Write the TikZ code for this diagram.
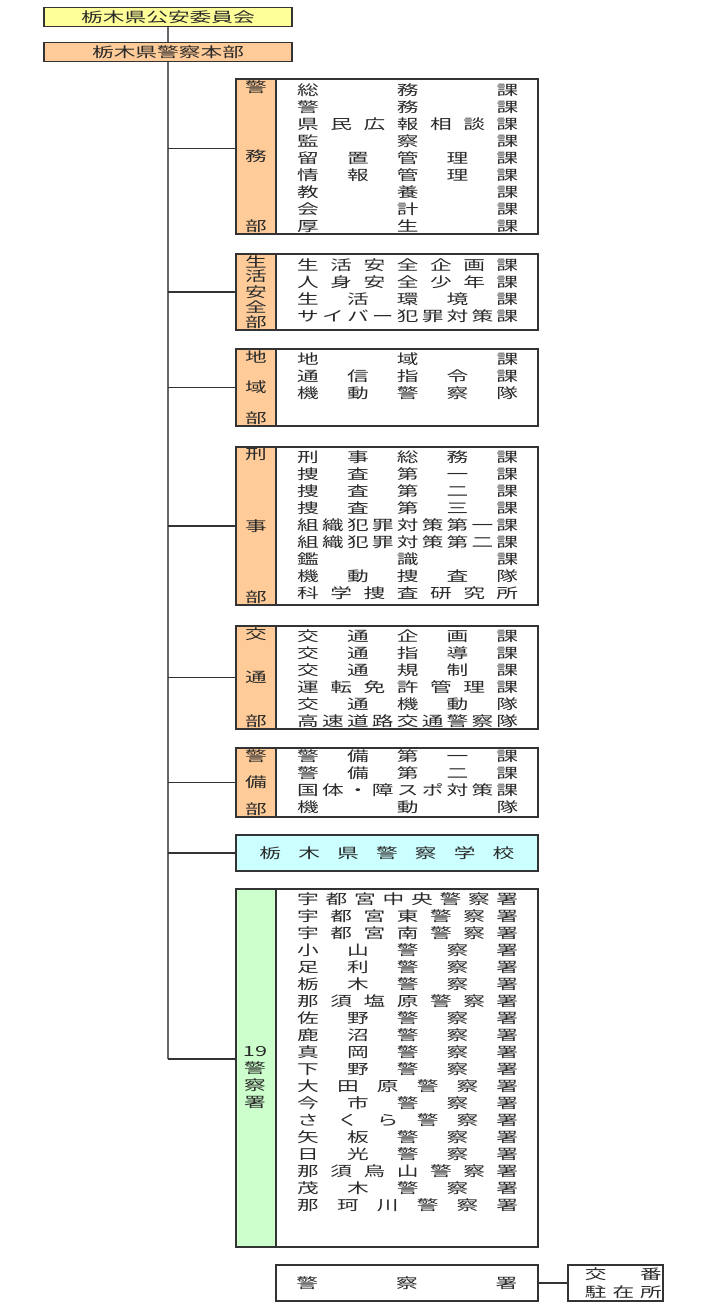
\documentclass[tikz,border=0pt]{standalone}
\usepackage{fontspec}
\setmainfont{Noto Sans CJK JP}[FakeStretch=1.55]
\usepackage{tikz}
\usetikzlibrary{positioning}
\definecolor{frame}{HTML}{333333}
\definecolor{trunk}{HTML}{666666}
\definecolor{ink}{HTML}{2A2A2A}
\definecolor{yellowpale}{HTML}{FFFF99}
\definecolor{orangepale}{HTML}{FFCC99}
\definecolor{cyanpale}{HTML}{CCFFFF}
\definecolor{greenpale}{HTML}{CCFFCC}
\makeatletter
\newcommand\jrow[2]{\hbox to #1{\@tfor\j@c:=#2\do{\j@c\hfil}\unskip}}
\newcommand\jcol[2]{\vbox to #1{\offinterlineskip\@tfor\j@c:=#2\do{\hbox{\j@c}\vfil}\unskip}}
\makeatother

\begin{document}
\begin{tikzpicture}[x=1pt,y=-1pt,font=\fontsize{14}{17}\selectfont,text=ink,
  box/.style={draw=frame,line width=1.8pt,fill=white,inner sep=0pt,anchor=north west},
  head/.style={box,anchor=center,minimum width=248pt,minimum height=19pt},
  strip/.style={box,fill=orangepale,minimum width=40pt},
  rows/.style={inner sep=0pt,anchor=north west,align=left},
  link/.style={draw=frame,line width=1.3pt},
  trunkline/.style={draw=trunk,line width=2.4pt}]
  \useasboundingbox (0,0) rectangle (702,1310);

  \node[head,fill=yellowpale] (iinkai) at (168,17) {栃木県公安委員会};
  \node[head,fill=orangepale] (honbu) at (168,52) {栃木県警察本部};

  \node[box,minimum width=302pt,minimum height=155pt] (keimu) at (235,78) {};
  \node[strip,minimum height=155pt] (keimuname) at (keimu.north west) {\jcol{151pt}{警務部}};
  \node[rows] (keimulist) at ([xshift=62pt,yshift=-6pt]keimu.north west) {\jrow{221pt}{総務課}\\ \jrow{221pt}{警務課}\\ \jrow{221pt}{県民広報相談課}\\ \jrow{221pt}{監察課}\\ \jrow{221pt}{留置管理課}\\ \jrow{221pt}{情報管理課}\\ \jrow{221pt}{教養課}\\ \jrow{221pt}{会計課}\\ \jrow{221pt}{厚生課}};

  \node[box,minimum width=302pt,minimum height=76pt] (seian) at (235,253) {};
  \node[strip,minimum height=76pt] (seianname) at (seian.north west) {\jcol{72pt}{生活安全部}};
  \node[rows] (seianlist) at ([xshift=62pt,yshift=-5pt]seian.north west) {\jrow{221pt}{生活安全企画課}\\ \jrow{221pt}{人身安全少年課}\\ \jrow{221pt}{生活環境課}\\ \jrow{221pt}{サイバー犯罪対策課}};

  \node[box,minimum width=302pt,minimum height=77pt] (chiiki) at (235,348) {};
  \node[strip,minimum height=77pt] (chiikiname) at (chiiki.north west) {\jcol{73pt}{地域部}};
  \node[rows] (chiikilist) at ([xshift=62pt,yshift=-5pt]chiiki.north west) {\jrow{221pt}{地域課}\\ \jrow{221pt}{通信指令課}\\ \jrow{221pt}{機動警察隊}};

  \node[box,minimum width=302pt,minimum height=158pt] (keiji) at (235,446) {};
  \node[strip,minimum height=158pt] (keijiname) at (keiji.north west) {\jcol{154pt}{刑事部}};
  \node[rows] (keijilist) at ([xshift=62pt,yshift=-5pt]keiji.north west) {\jrow{221pt}{刑事総務課}\\ \jrow{221pt}{捜査第一課}\\ \jrow{221pt}{捜査第二課}\\ \jrow{221pt}{捜査第三課}\\ \jrow{221pt}{組織犯罪対策第一課}\\ \jrow{221pt}{組織犯罪対策第二課}\\ \jrow{221pt}{鑑識課}\\ \jrow{221pt}{機動捜査隊}\\ \jrow{221pt}{科学捜査研究所}};

  \node[box,minimum width=302pt,minimum height=103pt] (kotsu) at (235,625) {};
  \node[strip,minimum height=103pt] (kotsuname) at (kotsu.north west) {\jcol{99pt}{交通部}};
  \node[rows] (kotsulist) at ([xshift=62pt,yshift=-4pt]kotsu.north west) {\jrow{221pt}{交通企画課}\\ \jrow{221pt}{交通指導課}\\ \jrow{221pt}{交通規制課}\\ \jrow{221pt}{運転免許管理課}\\ \jrow{221pt}{交通機動隊}\\ \jrow{221pt}{高速道路交通警察隊}};

  \node[box,minimum width=302pt,minimum height=69pt] (keibi) at (235,747) {};
  \node[strip,minimum height=69pt] (keibiname) at (keibi.north west) {\jcol{65pt}{警備部}};
  \node[rows] (keibilist) at ([xshift=62pt,yshift=-2pt]keibi.north west) {\jrow{221pt}{警備第一課}\\ \jrow{221pt}{警備第二課}\\ \jrow{221pt}{国体・障スポ対策課}\\ \jrow{221pt}{機動隊}};

  \node[box,fill=cyanpale,minimum width=302pt,minimum height=36pt] (gakko) at (235,834) {\jrow{255pt}{栃木県警察学校}};

  \node[box,minimum width=302pt,minimum height=358pt] (stations) at (235,888) {};
  \node[strip,fill=greenpale,minimum height=358pt] (stationsname) at (stations.north west) {};
  \node[align=center,inner sep=0pt] (stationslabel) at (255,1077) {19\\警\\察\\署};
  \node[rows] (stationslist) at ([xshift=62pt,yshift=-4pt]stations.north west) {\jrow{221pt}{宇都宮中央警察署}\\ \jrow{221pt}{宇都宮東警察署}\\ \jrow{221pt}{宇都宮南警察署}\\ \jrow{221pt}{小山警察署}\\ \jrow{221pt}{足利警察署}\\ \jrow{221pt}{栃木警察署}\\ \jrow{221pt}{那須塩原警察署}\\ \jrow{221pt}{佐野警察署}\\ \jrow{221pt}{鹿沼警察署}\\ \jrow{221pt}{真岡警察署}\\ \jrow{221pt}{下野警察署}\\ \jrow{221pt}{大田原警察署}\\ \jrow{221pt}{今市警察署}\\ \jrow{221pt}{さくら警察署}\\ \jrow{221pt}{矢板警察署}\\ \jrow{221pt}{日光警察署}\\ \jrow{221pt}{那須烏山警察署}\\ \jrow{221pt}{茂木警察署}\\ \jrow{221pt}{那珂川警察署}};

  \node[box,minimum width=262pt,minimum height=36pt] (keisatsusho) at (275,1264) {\jrow{221pt}{警察署}};
  \node[box,minimum width=95pt,minimum height=36pt] (koban) at (567,1264) {};
  \node[rows,anchor=center,font=\fontsize{14}{18}\selectfont] (kobanlist) at ([xshift=8pt]koban.center) {\jrow{77pt}{交番}\\ \jrow{77pt}{駐在所}};
  \draw[link] (keisatsusho.east) -- (koban.west);

  \coordinate (keimuin) at ([yshift=8pt]keimu.west);
  \coordinate (stationsin) at ([yshift=9pt]stations.west);
  \draw[trunkline] (iinkai.south) -- (honbu.north);
  \draw[trunkline] (honbu.south) -- (honbu.south |- stationsin);
  \draw[link] (honbu.south |- keimuin) -- (keimuin);
  \foreach \d in {seian,chiiki,keiji,kotsu,keibi,gakko}
    \draw[link] (honbu.south |- \d.west) -- (\d.west);
  \draw[link] (honbu.south |- stationsin) -- (stationsin);
\end{tikzpicture}
\end{document}
